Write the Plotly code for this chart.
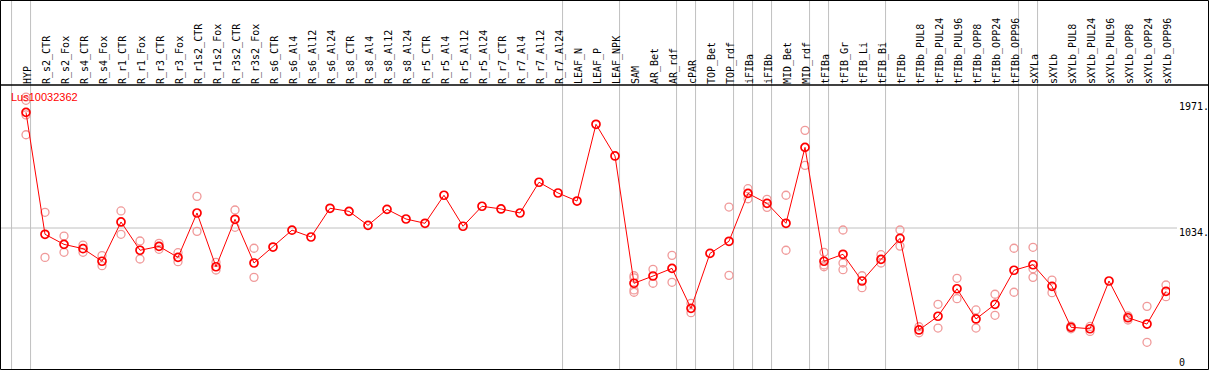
import plotly.graph_objects as go

# ---------------- data ----------------
gene = "Lus10032362"

categories = [
    "HYP", "R_s2_CTR", "R_s2_Fox", "R_s4_CTR", "R_s4_Fox", "R_r1_CTR", "R_r1_Fox",
    "R_r3_CTR", "R_r3_Fox", "R_r1s2_CTR", "R_r1s2_Fox", "R_r3s2_CTR", "R_r3s2_Fox",
    "R_s6_CTR", "R_s6_Al4", "R_s6_Al12", "R_s6_Al24", "R_s8_CTR", "R_s8_Al4",
    "R_s8_Al12", "R_s8_Al24", "R_r5_CTR", "R_r5_Al4", "R_r5_Al12", "R_r5_Al24",
    "R_r7_CTR", "R_r7_Al4", "R_r7_Al12", "R_r7_Al24", "LEAF_N", "LEAF_P", "LEAF_NPK",
    "SAM", "AR_Bet", "AR_rdf", "cPAR", "TOP_Bet", "TOP_rdf", "iFIBa", "iFIBb",
    "MID_Bet", "MID_rdf", "tFIBa", "tFIB_Gr", "tFIB_Li", "tFIB_Bi", "tFIBb",
    "tFIBb_PUL8", "tFIBb_PUL24", "tFIBb_PUL96", "tFIBb_OPP8", "tFIBb_OPP24",
    "tFIBb_OPP96", "sXYLa", "sXYLb", "sXYLb_PUL8", "sXYLb_PUL24", "sXYLb_PUL96",
    "sXYLb_OPP8", "sXYLb_OPP24", "sXYLb_OPP96",
]

means = [
    1896, 987, 912, 880, 786, 1079, 868, 897, 815, 1146, 745, 1099, 773,
    892, 1018, 967, 1181, 1158, 1054, 1173, 1101, 1069, 1278, 1047, 1196,
    1176, 1146, 1375, 1295, 1235, 1807, 1571,
    622, 676, 733, 435, 845, 935, 1292, 1218, 1069, 1635,
    786, 838, 639, 800, 957, 274, 376, 581, 356, 465, 719,
    760, 599, 294, 283, 639, 365, 318, 562,
]

replicates = [
    [2010, 1986, 1877, 1729], [1151, 815], [974, 853], [907, 853], [828, 753],
    [1161, 987], [937, 803], [920, 875], [850, 783], [1270, 1009], [778, 721],
    [1168, 1039], [883, 666],
    [], [], [], [], [], [], [], [], [], [], [], [], [], [], [], [], [], [], [],
    [678, 662, 572, 555], [726, 622], [830, 629], [472, 403], [], [1190, 681],
    [1327, 1252], [1248, 1188], [1278, 868], [1762, 1501],
    [853, 758, 745], [1019, 773, 723], [678, 589], [835, 773], [1019, 899],
    [298, 253], [465, 288], [659, 507], [423, 288], [540, 383], [883, 555],
    [890, 731, 666], [646, 552], [303, 283], [300, 263], [], [378, 348],
    [450, 182], [609, 522],
]

# group separators (drawn just right of these category indices)
separators = [-1, 0, 28, 31, 34, 35, 37, 38, 39, 41, 42, 45, 52, 53, 60]

ytick_vals = [0, 1034, 1971]
ytick_text = ["0", "1034.", "1971."]
ref_line = 1034

# ---------------- layout geometry ----------------
W, H = 1209, 370
L, R, T, B = 1, 39, 85, 1
pw = W - L - R
ph = H - T - B


def px_x(p):
    return (p - L) / pw


def px_y(p):
    return (H - B - p) / ph


xs = list(range(len(categories)))
rx, ry = [], []
for i, reps in enumerate(replicates):
    for v in reps:
        rx.append(i)
        ry.append(v)

fig = go.Figure()
fig.add_trace(go.Scatter(
    x=rx, y=ry, mode="markers",
    marker=dict(symbol="circle-open", size=8, color="#f09a9a", line=dict(width=1.3)),
    hoverinfo="skip", showlegend=False,
))
fig.add_trace(go.Scatter(
    x=xs, y=means, mode="lines+markers",
    line=dict(color="#ff0000", width=1),
    marker=dict(symbol="circle-open", size=8, color="#ff0000", line=dict(width=1.7)),
    showlegend=False,
))

shapes = []
for s in separators:
    shapes.append(dict(type="line", xref="x", yref="paper",
                       x0=s + 0.24, x1=s + 0.24, y0=px_y(369.5), y1=px_y(0),
                       line=dict(color="#c0c0c0", width=1), layer="below"))
shapes.append(dict(type="line", xref="paper", yref="y",
                   x0=px_x(0), x1=px_x(1177), y0=ref_line, y1=ref_line,
                   line=dict(color="#c0c0c0", width=1), layer="below"))
# frame
shapes.append(dict(type="rect", xref="paper", yref="paper",
                   x0=px_x(0.5), x1=px_x(1208.5), y0=px_y(369.5), y1=px_y(0.5),
                   line=dict(color="black", width=1), fillcolor="rgba(0,0,0,0)"))
shapes.append(dict(type="line", xref="paper", yref="paper",
                   x0=px_x(0.5), x1=px_x(1208.5), y0=px_y(85), y1=px_y(85),
                   line=dict(color="black", width=1.3)))

annotations = []
for v, t in zip(ytick_vals, ytick_text):
    annotations.append(dict(
        xref="paper", yref="y", x=px_x(1177), y=v, text=t, showarrow=False,
        xanchor="left", yanchor="middle", yshift=(4.5 if v == 0 else -4.5),
        font=dict(family="DejaVu Sans Mono", size=10, color="black"),
    ))
annotations.append(dict(
    xref="paper", yref="paper", x=px_x(9), y=px_y(97), text=gene, showarrow=False,
    xanchor="left", yanchor="middle",
    font=dict(family="Liberation Sans", size=11, color="#ff0000"),
))

fig.update_layout(
    width=W, height=H, autosize=False,
    margin=dict(l=L, r=R, t=T, b=B, pad=0),
    plot_bgcolor="white", paper_bgcolor="white",
    shapes=shapes, annotations=annotations, showlegend=False,
    xaxis=dict(
        range=[(1 - 26) / 19.0, (1170 - 26) / 19.0],
        side="top", tickmode="array", tickvals=xs, ticktext=categories,
        tickangle=-90, ticks="", showgrid=False, zeroline=False, showline=False,
        ticklabelshift=2,
        tickfont=dict(family="DejaVu Sans Mono", size=10, color="black"),
        fixedrange=True,
    ),
    yaxis=dict(
        range=[-17.1, 2100], showticklabels=False, showgrid=False,
        zeroline=False, showline=False, ticks="", fixedrange=True,
    ),
)

fig.write_html(
    "out.html",
    config={"displayModeBar": False},
    post_script="document.body.style.margin='0px';document.body.style.overflow='hidden';",
)
